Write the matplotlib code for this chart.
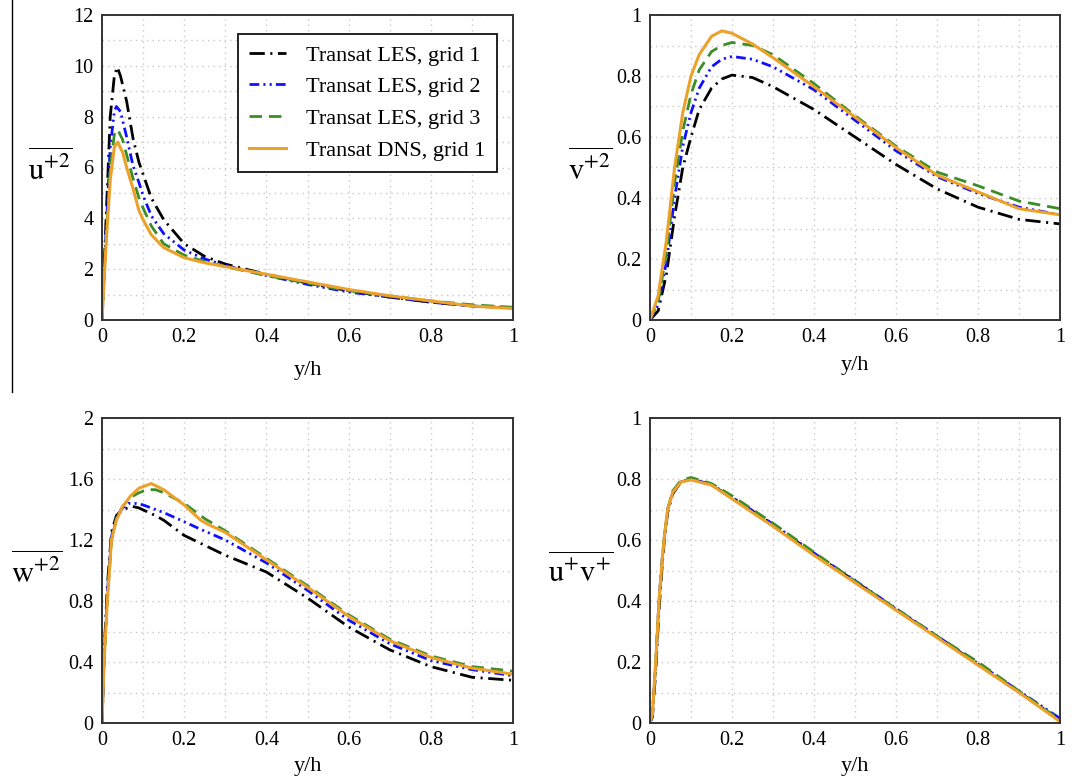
import matplotlib
matplotlib.use("Agg")
import matplotlib.pyplot as plt
from matplotlib.lines import Line2D
from matplotlib.ticker import MultipleLocator, FuncFormatter

plt.rcParams['font.family'] = ['Liberation Serif', 'DejaVu Serif']
plt.rcParams['mathtext.fontset'] = 'stix'
plt.rcParams['lines.scale_dashes'] = False

# --- data: u'^2 (top-left) ---
uu_x_g1 = [0, 0.01, 0.02, 0.03, 0.037, 0.045, 0.06, 0.076, 0.09, 0.104, 0.12, 0.15, 0.2, 0.25, 0.3, 0.4, 0.5, 0.6, 0.7, 0.8, 0.9, 1.0]
uu_g1 = [0, 4.0, 8.0, 9.6, 9.95, 9.6, 8.6, 7.1, 6.2, 5.55, 4.8, 3.95, 3.0, 2.5, 2.2, 1.8, 1.45, 1.15, 0.9, 0.7, 0.55, 0.48]
uu_x_g2 = [0, 0.01, 0.02, 0.03, 0.035, 0.045, 0.06, 0.075, 0.09, 0.1, 0.12, 0.15, 0.2, 0.25, 0.3, 0.4, 0.5, 0.6, 0.7, 0.8, 0.9, 1.0]
uu_g2 = [0, 3.5, 6.8, 8.2, 8.4, 8.2, 7.2, 6.1, 5.4, 4.9, 4.1, 3.4, 2.75, 2.4, 2.15, 1.75, 1.4, 1.1, 0.9, 0.7, 0.55, 0.48]
uu_x_g3 = [0, 0.01, 0.02, 0.03, 0.038, 0.05, 0.06, 0.075, 0.09, 0.1, 0.12, 0.15, 0.2, 0.25, 0.3, 0.4, 0.5, 0.6, 0.7, 0.8, 0.9, 1.0]
uu_g3 = [0, 3.2, 6.0, 7.3, 7.5, 7.1, 6.5, 5.6, 4.8, 4.4, 3.7, 3.0, 2.55, 2.3, 2.1, 1.75, 1.45, 1.15, 0.95, 0.75, 0.6, 0.5]
uu_x_dns = [0, 0.01, 0.02, 0.03, 0.038, 0.05, 0.06, 0.075, 0.09, 0.1, 0.12, 0.15, 0.2, 0.25, 0.3, 0.4, 0.5, 0.6, 0.7, 0.8, 0.9, 1.0]
uu_dns = [0, 3.0, 5.5, 6.8, 7.0, 6.6, 6.0, 5.2, 4.3, 3.95, 3.35, 2.85, 2.45, 2.25, 2.1, 1.8, 1.5, 1.2, 0.95, 0.75, 0.55, 0.45]

# --- data: v'^2 (top-right) ---
vv_x = [0, 0.02, 0.04, 0.06, 0.08, 0.1, 0.12, 0.15, 0.175, 0.2, 0.25, 0.3, 0.4, 0.5, 0.6, 0.7, 0.8, 0.9, 1.0]
vv_g1 = [0, 0.03, 0.15, 0.34, 0.5, 0.6, 0.69, 0.76, 0.79, 0.803, 0.795, 0.765, 0.69, 0.6, 0.51, 0.43, 0.37, 0.33, 0.315]
vv_g2 = [0, 0.05, 0.19, 0.40, 0.57, 0.68, 0.76, 0.83, 0.855, 0.864, 0.855, 0.83, 0.755, 0.655, 0.555, 0.47, 0.415, 0.37, 0.345]
vv_g3 = [0, 0.06, 0.22, 0.45, 0.62, 0.74, 0.82, 0.88, 0.9, 0.91, 0.9, 0.87, 0.775, 0.67, 0.57, 0.485, 0.44, 0.39, 0.365]
vv_dns = [0, 0.08, 0.26, 0.5, 0.68, 0.8, 0.87, 0.93, 0.948, 0.94, 0.905, 0.86, 0.765, 0.665, 0.565, 0.475, 0.42, 0.365, 0.345]

# --- data: w'^2 (bottom-left) ---
ww_x_g1 = [0, 0.005, 0.013, 0.023, 0.035, 0.05, 0.075, 0.09, 0.13, 0.15, 0.2, 0.3, 0.4, 0.5, 0.6, 0.7, 0.8, 0.9, 1.0]
ww_g1 = [0, 0.45, 0.9, 1.25, 1.36, 1.40, 1.42, 1.41, 1.36, 1.33, 1.23, 1.10, 0.99, 0.82, 0.63, 0.48, 0.37, 0.30, 0.28]
ww_x_g2 = [0, 0.005, 0.013, 0.023, 0.035, 0.05, 0.065, 0.08, 0.1, 0.15, 0.2, 0.24, 0.3, 0.4, 0.5, 0.6, 0.7, 0.8, 0.9, 1.0]
ww_g2 = [0, 0.42, 0.85, 1.22, 1.35, 1.41, 1.44, 1.44, 1.43, 1.38, 1.32, 1.27, 1.2, 1.05, 0.87, 0.675, 0.52, 0.41, 0.35, 0.31]
ww_x_g3 = [0, 0.005, 0.013, 0.023, 0.035, 0.05, 0.07, 0.09, 0.11, 0.13, 0.15, 0.2, 0.25, 0.3, 0.4, 0.5, 0.6, 0.7, 0.8, 0.9, 1.0]
ww_g3 = [0, 0.4, 0.8, 1.2, 1.34, 1.42, 1.48, 1.51, 1.53, 1.53, 1.51, 1.44, 1.34, 1.26, 1.08, 0.9, 0.71, 0.55, 0.44, 0.37, 0.34]
ww_x_dns = [0, 0.005, 0.013, 0.023, 0.035, 0.05, 0.07, 0.09, 0.12, 0.15, 0.2, 0.24, 0.26, 0.3, 0.4, 0.5, 0.6, 0.7, 0.8, 0.9, 1.0]
ww_dns = [0, 0.4, 0.8, 1.2, 1.33, 1.42, 1.49, 1.54, 1.57, 1.53, 1.43, 1.33, 1.30, 1.25, 1.07, 0.89, 0.70, 0.54, 0.43, 0.36, 0.32]

# --- data: u'v' (bottom-right) ---
uv_x = [0, 0.006, 0.014, 0.022, 0.03, 0.035, 0.043, 0.055, 0.075, 0.1, 0.15, 0.2, 0.3, 0.4, 0.5, 0.6, 0.7, 0.8, 0.9, 1.0]
uv_g1 = [0, 0.02, 0.17, 0.37, 0.52, 0.6, 0.69, 0.75, 0.79, 0.8, 0.78, 0.74, 0.65, 0.555, 0.465, 0.372, 0.283, 0.193, 0.102, 0.01]
uv_g2 = [0, 0.03, 0.2, 0.4, 0.54, 0.61, 0.7, 0.755, 0.79, 0.8, 0.782, 0.74, 0.652, 0.557, 0.467, 0.375, 0.285, 0.195, 0.105, 0.015]
uv_g3 = [0, 0.03, 0.2, 0.4, 0.54, 0.61, 0.7, 0.76, 0.795, 0.805, 0.785, 0.745, 0.655, 0.56, 0.465, 0.375, 0.285, 0.2, 0.105, 0.01]
uv_dns = [0, 0.03, 0.2, 0.4, 0.54, 0.61, 0.7, 0.755, 0.79, 0.797, 0.78, 0.735, 0.645, 0.55, 0.46, 0.37, 0.28, 0.19, 0.1, 0.005]

labels = ['Transat LES, grid 1', 'Transat LES, grid 2', 'Transat LES, grid 3', 'Transat DNS, grid 1']

styles = [
    dict(color='black', lw=2.0, linestyle=(0, (11, 4, 1.5, 4))),
    dict(color='#1010ff', lw=2.0, linestyle=(0, (7, 3, 1.5, 3, 1.5, 3))),
    dict(color='#3c8c28', lw=2.0, linestyle=(0, (9, 5))),
    dict(color='#eba12a', lw=2.2, linestyle='-'),
]

W, H = 1083, 780
fig = plt.figure(figsize=(W / 100, H / 100), dpi=100)

def make_ax(left, top, right, bottom):
    return fig.add_axes([left / W, 1 - bottom / H, (right - left) / W, (bottom - top) / H])

ax_uu = make_ax(102, 15, 513, 320)
ax_vv = make_ax(650, 15, 1060, 320)
ax_ww = make_ax(102, 418, 513, 723)
ax_uv = make_ax(650, 418, 1060, 723)

fmt = FuncFormatter(lambda v, p: f"{v:g}")

panels = [
    (ax_uu, [(uu_x_g1, uu_g1), (uu_x_g2, uu_g2), (uu_x_g3, uu_g3), (uu_x_dns, uu_dns)],
     12, 2, 1, r'$\overline{\mathrm{u}^{+2}}$', -0.125, -0.164),
    (ax_vv, [(vv_x, vv_g1), (vv_x, vv_g2), (vv_x, vv_g3), (vv_x, vv_dns)],
     1, 0.2, 0.1, r'$\overline{\mathrm{v}^{+2}}$', -0.145, -0.148),
    (ax_ww, [(ww_x_g1, ww_g1), (ww_x_g2, ww_g2), (ww_x_g3, ww_g3), (ww_x_dns, ww_dns)],
     2, 0.4, 0.2, r'$\overline{\mathrm{w}^{+2}}$', -0.158, -0.144),
    (ax_uv, [(uv_x, uv_g1), (uv_x, uv_g2), (uv_x, uv_g3), (uv_x, uv_dns)],
     1, 0.2, 0.1, r'$\overline{\mathrm{u}^{+}\mathrm{v}^{+}}$', -0.168, -0.144),
]

for ax, series, ymax, ymaj, ymin, ylab, ylx, xly in panels:
    for (xs, ys), st, lab in zip(series, styles, labels):
        ax.plot(xs, ys, label=lab, **st)
    ax.set_xlim(0, 1)
    ax.set_ylim(0, ymax)
    ax.xaxis.set_major_locator(MultipleLocator(0.2))
    ax.xaxis.set_minor_locator(MultipleLocator(0.1))
    ax.yaxis.set_major_locator(MultipleLocator(ymaj))
    ax.yaxis.set_minor_locator(MultipleLocator(ymin))
    ax.xaxis.set_major_formatter(fmt)
    ax.yaxis.set_major_formatter(fmt)
    ax.grid(True, which='both', color='#c8c8c8', linestyle=(0, (1, 3)), lw=1.0)
    ax.set_axisbelow(True)
    ax.tick_params(which='both', length=0, labelsize=14.5, pad=6)
    for sp in ax.spines.values():
        sp.set_linewidth(1.4)
        sp.set_color('#333333')
    ax.set_xlabel('y/h', fontsize=16, va='center')
    ax.xaxis.set_label_coords(0.5, xly)
    ax.set_ylabel(ylab, fontsize=22, rotation=0, ha='center', va='center')
    ax.yaxis.set_label_coords(ylx, 0.5)

leg = ax_uu.legend(loc='upper right', bbox_to_anchor=(0.961, 0.938), borderaxespad=0,
                   fontsize=16, frameon=True, fancybox=False, edgecolor='#222222',
                   framealpha=1, handlelength=1.7, handletextpad=0.9, borderpad=0.5,
                   labelspacing=0.5)
leg.get_frame().set_linewidth(1.4)

# thin vertical rule at the far left edge
fig.add_artist(Line2D([12 / W, 12 / W], [1, 1 - 392 / H], transform=fig.transFigure,
                      color='black', lw=1.0))

fig.savefig('out.png', dpi=100)
